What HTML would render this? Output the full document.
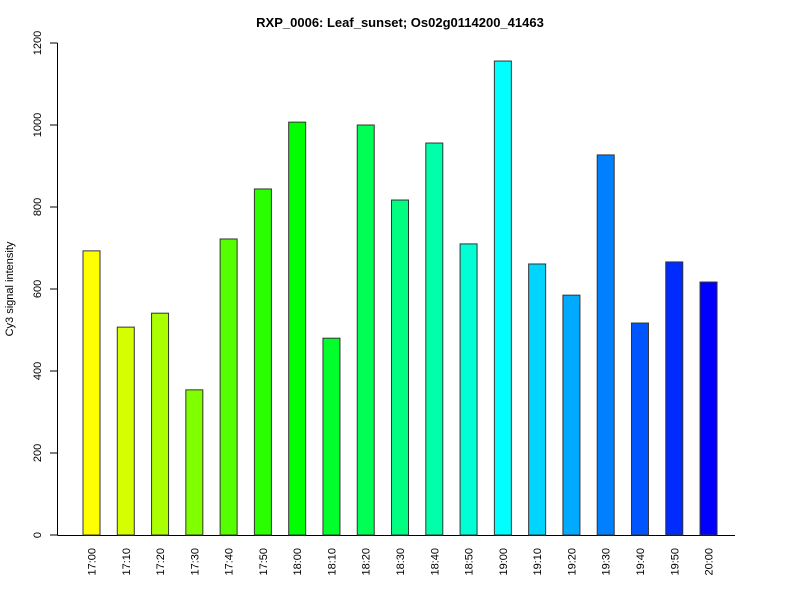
<!DOCTYPE html>
<html><head><meta charset="utf-8"><style>body{margin:0;background:#fff}svg{display:block;font-family:"Liberation Sans",sans-serif}</style></head>
<body><svg id="c" width="800" height="600">
<text x="400" y="27" text-anchor="middle" font-weight="bold" font-size="13">RXP_0006: Leaf_sunset; Os02g0114200_41463</text>
<text transform="translate(13,289) rotate(-90)" text-anchor="middle" font-size="11">Cy3 signal intensity</text>
<g id="g"></g>
</svg>
<script>
const categories=["17:00","17:10","17:20","17:30","17:40","17:50","18:00","18:10","18:20","18:30","18:40","18:50","19:00","19:10","19:20","19:30","19:40","19:50","20:00"];
const values=[693,507,541,354,722,844,1007,480,1000,817,956,710,1156,661,585,927,517,666,617];
const yTicks=[0,200,400,600,800,1000,1200];
const ns="http://www.w3.org/2000/svg",g=document.getElementById('g');
const y=v=>535-v*492/1200, xc=i=>91.5+i*34.28;
function mk(t,a){const e=document.createElementNS(ns,t);for(const k in a)e.setAttribute(k,a[k]);g.appendChild(e);return e;}
let ax=mk('line',{x1:57.5,x2:57.5,y1:y(0),y2:y(1200),stroke:'#000'});


yTicks.forEach(t=>{
 const l=mk('line',{x1:50,x2:57.5,y1:y(t),y2:y(t),stroke:'#000'});
 
 
 const tx=mk('text',{transform:`translate(41,${y(t)}) rotate(-90)`,'text-anchor':'middle','font-size':11});
 tx.textContent=t;
 
 
});
const xl=mk('line',{x1:57.5,x2:735,y1:535.5,y2:535.5,stroke:'#000'});


categories.forEach((c,i)=>{
 const h=60+i*180/(categories.length-1);
 const r=mk('rect',{x:xc(i)-8.5,y:y(values[i]),width:17,height:y(0)-y(values[i]),fill:`hsl(${h},100%,50%)`,stroke:'#333','stroke-width':1});
 
 
 const t=mk('text',{transform:`translate(${xc(i)+4},548) rotate(-90)`,'text-anchor':'end','font-size':11});
 t.textContent=c;
 
 
});
</script></body></html>
